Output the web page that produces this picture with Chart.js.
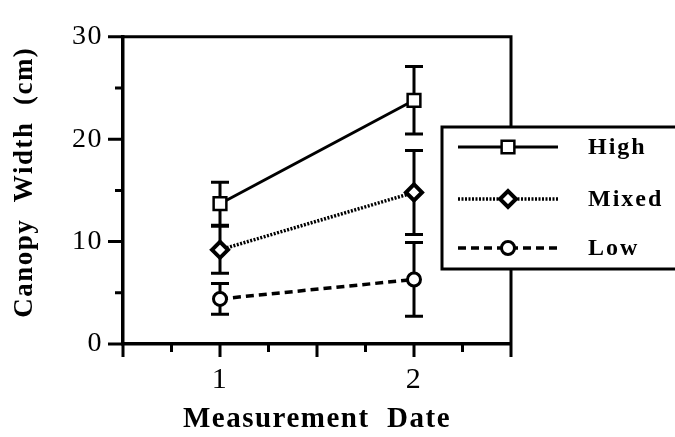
<!DOCTYPE html>
<html>
<head>
<meta charset="utf-8">
<script src="https://cdn.jsdelivr.net/npm/chart.js@4.4.0/dist/chart.umd.min.js"></script>
<style>
html, body { margin: 0; padding: 0; background: #fff; }
#wrap { width: 675px; height: 437px; position: relative; }
</style>
</head>
<body>
<div id="wrap"><canvas id="myChart"></canvas></div>
<script>
// data
const dates = [1, 2];
const seriesNames = ['High', 'Mixed', 'Low'];
const highMean = [13.7, 23.8];
const highErr = [2.1, 3.3];
const mixedMean = [9.2, 14.8];
const mixedErr = [2.3, 4.1];
const lowMean = [4.4, 6.3];
const lowErr = [1.5, 3.6];
const yTickLabels = [0, 10, 20, 30];
const xTickLabels = [1, 2];

const serif = "'Liberation Serif', 'Times New Roman', serif";

function pts(means) {
    return dates.map((d, i) => ({ x: d, y: means[i] }));
}

// error bars, drawn under the markers
const errorBars = {
    id: 'errorBars',
    beforeDatasetsDraw(chart) {
        const ctx = chart.ctx, xs = chart.scales.x, ys = chart.scales.y;
        ctx.save();
        ctx.strokeStyle = '#000';
        ctx.lineWidth = 3;
        chart.data.datasets.forEach(ds => {
            ds.data.forEach((p, i) => {
                const e = ds.err[i];
                const px = xs.getPixelForValue(p.x);
                const top = ys.getPixelForValue(p.y + e);
                const bot = ys.getPixelForValue(p.y - e);
                ctx.beginPath();
                ctx.moveTo(px, top); ctx.lineTo(px, bot);
                ctx.moveTo(px - 9, top); ctx.lineTo(px + 9, top);
                ctx.moveTo(px - 9, bot); ctx.lineTo(px + 9, bot);
                ctx.stroke();
            });
        });
        ctx.restore();
    }
};

// tick marks, frame and the boxed legend
const frameAndLegend = {
    id: 'frameAndLegend',
    beforeDraw(chart) {
        chart.ctx.letterSpacing = '1.5px';
    },
    afterDraw(chart) {
        const ctx = chart.ctx, a = chart.chartArea;
        const xs = chart.scales.x, ys = chart.scales.y;
        ctx.save();
        ctx.strokeStyle = '#000';
        ctx.lineWidth = 3;
        ctx.beginPath();
        ctx.moveTo(a.left, a.top);
        ctx.lineTo(a.right, a.top);
        ctx.lineTo(a.right, a.bottom);
        ys.ticks.forEach(t => {
            const py = ys.getPixelForValue(t.value);
            const len = yTickLabels.includes(t.value) ? 15 : 8;
            ctx.moveTo(a.left - len, py); ctx.lineTo(a.left, py);
        });
        xs.ticks.forEach(t => {
            const px = xs.getPixelForValue(t.value);
            const len = Math.abs(t.value * 2 - Math.round(t.value * 2)) < 1e-6 ? 13 : 8;
            ctx.moveTo(px, a.bottom); ctx.lineTo(px, a.bottom + len);
        });
        ctx.stroke();

        // legend box
        ctx.fillStyle = '#fff';
        ctx.fillRect(442, 127, 240, 142);
        ctx.strokeRect(442, 127, 240, 142);
        const rows = [147, 199, 248];
        chart.data.datasets.forEach((ds, i) => {
            const y = rows[i];
            ctx.lineWidth = ds.borderWidth;
            ctx.setLineDash(ds.borderDash || []);
            ctx.beginPath();
            ctx.moveTo(458, y); ctx.lineTo(558, y);
            ctx.stroke();
            ctx.setLineDash([]);
            ctx.fillStyle = '#fff';
            ctx.lineWidth = ds.pointBorderWidth;
            Chart.helpers.drawPoint(ctx, {
                pointStyle: ds.pointStyle, radius: ds.pointRadius,
                borderWidth: ds.pointBorderWidth, rotation: 0
            }, 508, y);
            ctx.fillStyle = '#000';
            ctx.font = 'bold 24px ' + serif;
            ctx.letterSpacing = '2px';
            ctx.textBaseline = 'middle';
            ctx.textAlign = 'left';
            ctx.fillText(ds.label, 588, y + 1);
        });
        ctx.restore();
    }
};

const myChart = document.getElementById('myChart').getContext('2d');
const chart = new Chart(myChart, {
    type: 'line',
    data: {
        datasets: [
            {
                label: seriesNames[0], data: pts(highMean), err: highErr,
                borderColor: '#000', borderWidth: 3,
                pointStyle: 'rect', pointRadius: 9, pointBorderWidth: 2.5,
                pointBackgroundColor: '#fff', pointBorderColor: '#000'
            },
            {
                label: seriesNames[1], data: pts(mixedMean), err: mixedErr,
                borderColor: '#000', borderWidth: 3.5, borderDash: [2, 1.5],
                pointStyle: 'rectRot', pointRadius: 8, pointBorderWidth: 4,
                pointBackgroundColor: '#fff', pointBorderColor: '#000'
            },
            {
                label: seriesNames[2], data: pts(lowMean), err: lowErr,
                borderColor: '#000', borderWidth: 3.5, borderDash: [8, 5],
                pointStyle: 'circle', pointRadius: 6.5, pointBorderWidth: 3,
                pointBackgroundColor: '#fff', pointBorderColor: '#000'
            }
        ]
    },
    options: {
        responsive: true,
        maintainAspectRatio: false,
        animation: false,
        layout: { padding: { left: 0, right: 164, top: 28, bottom: 0 } },
        plugins: { legend: { display: false }, tooltip: { enabled: false } },
        scales: {
            x: {
                type: 'linear', min: 0.5, max: 2.5,
                afterFit: s => { s.height = 93; },
                grid: { display: false, drawTicks: false },
                border: { display: true, color: '#000', width: 3.5 },
                ticks: {
                    stepSize: 0.25, autoSkip: false, padding: 18, color: '#000',
                    font: { family: serif, size: 30 },
                    callback: v => xTickLabels.includes(v) ? String(v) : ''
                },
                title: {
                    display: true, text: 'Measurement  Date', color: '#000',
                    font: { family: serif, size: 29, weight: 'bold' },
                    padding: { top: 0, bottom: 0 }
                }
            },
            y: {
                min: 0, max: 30,
                afterFit: s => { s.width = 123; },
                grid: { display: false, drawTicks: false },
                border: { display: true, color: '#000', width: 3.5 },
                ticks: {
                    stepSize: 5, padding: 20, color: '#000',
                    font: { family: serif, size: 28 },
                    callback: v => yTickLabels.includes(v) ? String(v) : ''
                },
                title: {
                    display: true, text: '  Canopy  Width  (cm)', color: '#000',
                    font: { family: serif, size: 27, weight: 'bold' },
                    padding: { top: 9, bottom: 0 }
                }
            }
        }
    },
    plugins: [errorBars, frameAndLegend]
});
</script>
</body>
</html>
